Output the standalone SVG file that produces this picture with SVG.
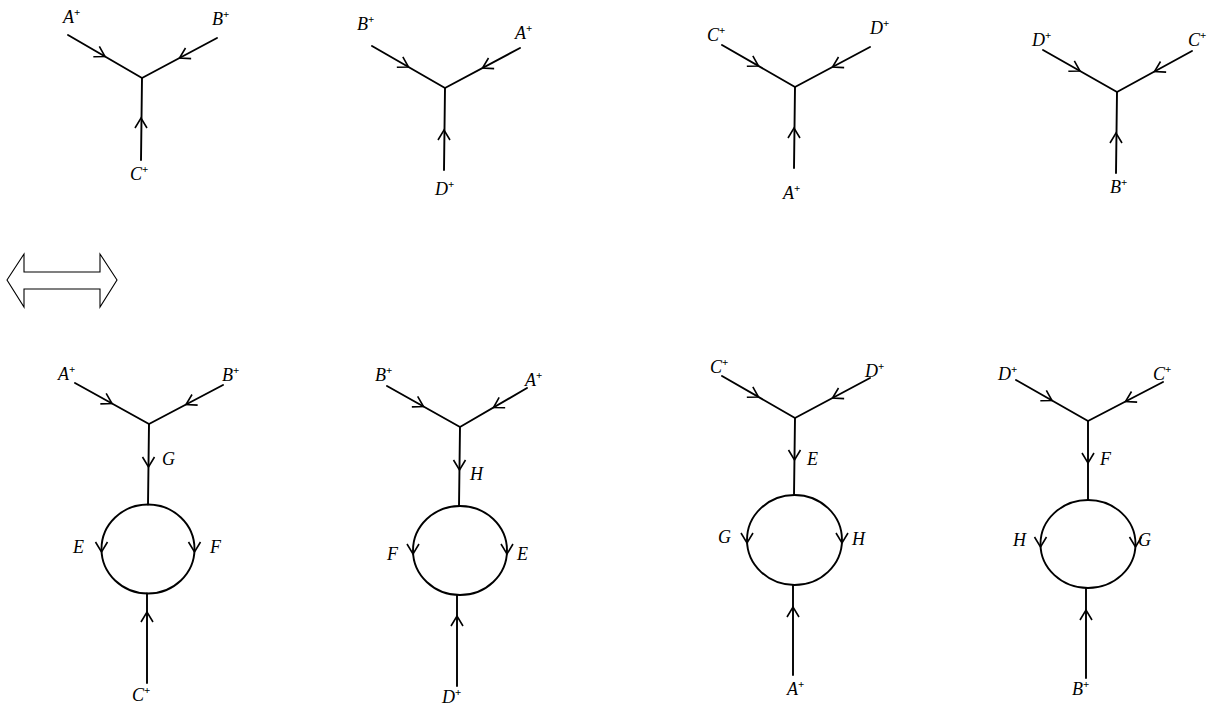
<svg xmlns="http://www.w3.org/2000/svg" xmlns:xlink="http://www.w3.org/1999/xlink" width="1215" height="707" viewBox="0 0 1215 707">
<style>
.ln{stroke:#000;stroke-width:1.9;fill:none;stroke-linecap:round}
.ch{stroke:#000;stroke-width:1.6;fill:none;stroke-linejoin:miter}
.lb{font-family:"Liberation Serif","Times New Roman",serif;font-style:italic;font-size:18px;fill:#000}
.sp{font-size:11px;font-style:normal;font-weight:bold}
.dbl{stroke:#000;stroke-width:1.1;fill:none}
</style>
<defs>
<path id="chev" d="M-10,-6 L0,0 L-10,6"/>
</defs>
<rect width="1215" height="707" fill="#fff"/>

<g id="double-arrow">
<path class="dbl" d="M7,280 L24,254 L24,272 L100,272 L100,254 L117,280 L100,307 L100,289 L24,289 L24,307 Z"/>
</g>

<g id="top-1">
<g class="ln"><path d="M68,35 L142,78 L217,38 M142,78 L141,160"/></g>
<g class="ch"><use xlink:href="#chev" transform="translate(105,56.5) rotate(30)"/><use xlink:href="#chev" transform="translate(179.5,58) rotate(152)"/><use xlink:href="#chev" transform="translate(141,118) rotate(-90)"/></g>
<text class="lb" x="63" y="23">A<tspan class="sp" dy="-7">+</tspan></text>
<text class="lb" x="212" y="25">B<tspan class="sp" dy="-7">+</tspan></text>
<text class="lb" x="130" y="180">C<tspan class="sp" dy="-7">+</tspan></text>
</g>

<g id="top-2">
<g class="ln"><path d="M372,46 L445,88 L520,48 M445,88 L444,170"/></g>
<g class="ch"><use xlink:href="#chev" transform="translate(408.5,67) rotate(30)"/><use xlink:href="#chev" transform="translate(482.5,68) rotate(152)"/><use xlink:href="#chev" transform="translate(444,130) rotate(-90)"/></g>
<text class="lb" x="357" y="30">B<tspan class="sp" dy="-7">+</tspan></text>
<text class="lb" x="515" y="39">A<tspan class="sp" dy="-7">+</tspan></text>
<text class="lb" x="435" y="195">D<tspan class="sp" dy="-7">+</tspan></text>
</g>

<g id="top-3">
<g class="ln"><path d="M722,45 L795,87 L870,47 M795,87 L794,168"/></g>
<g class="ch"><use xlink:href="#chev" transform="translate(758.5,66) rotate(30)"/><use xlink:href="#chev" transform="translate(832.5,67) rotate(152)"/><use xlink:href="#chev" transform="translate(794,128) rotate(-90)"/></g>
<text class="lb" x="707" y="41">C<tspan class="sp" dy="-7">+</tspan></text>
<text class="lb" x="870" y="34">D<tspan class="sp" dy="-7">+</tspan></text>
<text class="lb" x="783" y="199">A<tspan class="sp" dy="-7">+</tspan></text>
</g>

<g id="top-4">
<g class="ln"><path d="M1043,50 L1117,92 L1192,51 M1117,92 L1116,173"/></g>
<g class="ch"><use xlink:href="#chev" transform="translate(1080,71) rotate(30)"/><use xlink:href="#chev" transform="translate(1154.5,71.5) rotate(152)"/><use xlink:href="#chev" transform="translate(1116,133) rotate(-90)"/></g>
<text class="lb" x="1032" y="46">D<tspan class="sp" dy="-7">+</tspan></text>
<text class="lb" x="1188" y="46">C<tspan class="sp" dy="-7">+</tspan></text>
<text class="lb" x="1110" y="193">B<tspan class="sp" dy="-7">+</tspan></text>
</g>

<g id="bottom-1">
<g class="ln"><path d="M75,383 L149,424 L223,385 M149,424 L148,504.5 M147,593.5 L147,683"/><ellipse cx="148" cy="549" rx="46.5" ry="44.5"/></g>
<g class="ch"><use xlink:href="#chev" transform="translate(112,403.5) rotate(29)"/><use xlink:href="#chev" transform="translate(186,404.5) rotate(152)"/><use xlink:href="#chev" transform="translate(148.5,467) rotate(90)"/><use xlink:href="#chev" transform="translate(101.5,552) rotate(90)"/><use xlink:href="#chev" transform="translate(194.5,552) rotate(90)"/><use xlink:href="#chev" transform="translate(147,612) rotate(-90)"/></g>
<text class="lb" x="58" y="380">A<tspan class="sp" dy="-7">+</tspan></text>
<text class="lb" x="222" y="381">B<tspan class="sp" dy="-7">+</tspan></text>
<text class="lb" x="162" y="465">G</text>
<text class="lb" x="73" y="553">E</text>
<text class="lb" x="210" y="553">F</text>
<text class="lb" x="132" y="701">C<tspan class="sp" dy="-7">+</tspan></text>
</g>

<g id="bottom-2">
<g class="ln"><path d="M387,386 L460,427 L527,388 M460,427 L459,506 M457,595 L457,686"/><ellipse cx="460" cy="550.5" rx="47" ry="44.5"/></g>
<g class="ch"><use xlink:href="#chev" transform="translate(423.5,406.5) rotate(29)"/><use xlink:href="#chev" transform="translate(493.5,407.5) rotate(150)"/><use xlink:href="#chev" transform="translate(459.5,470) rotate(90)"/><use xlink:href="#chev" transform="translate(413,554) rotate(90)"/><use xlink:href="#chev" transform="translate(507,554) rotate(90)"/><use xlink:href="#chev" transform="translate(457,616) rotate(-90)"/></g>
<text class="lb" x="375" y="381">B<tspan class="sp" dy="-7">+</tspan></text>
<text class="lb" x="525" y="386">A<tspan class="sp" dy="-7">+</tspan></text>
<text class="lb" x="470" y="480">H</text>
<text class="lb" x="387" y="560">F</text>
<text class="lb" x="517" y="560">E</text>
<text class="lb" x="442" y="703">D<tspan class="sp" dy="-7">+</tspan></text>
</g>

<g id="bottom-3">
<g class="ln"><path d="M722,376 L795,418 L870,378 M795,418 L794,495 M793,585 L793,675"/><ellipse cx="794.5" cy="540" rx="47.5" ry="45"/></g>
<g class="ch"><use xlink:href="#chev" transform="translate(758.5,397) rotate(30)"/><use xlink:href="#chev" transform="translate(832.5,398) rotate(152)"/><use xlink:href="#chev" transform="translate(794.5,460) rotate(90)"/><use xlink:href="#chev" transform="translate(747,543) rotate(90)"/><use xlink:href="#chev" transform="translate(842,543) rotate(90)"/><use xlink:href="#chev" transform="translate(793,607) rotate(-90)"/></g>
<text class="lb" x="710" y="373">C<tspan class="sp" dy="-7">+</tspan></text>
<text class="lb" x="865" y="377">D<tspan class="sp" dy="-7">+</tspan></text>
<text class="lb" x="807" y="465">E</text>
<text class="lb" x="718" y="543">G</text>
<text class="lb" x="852" y="545">H</text>
<text class="lb" x="787" y="695">A<tspan class="sp" dy="-7">+</tspan></text>
</g>

<g id="bottom-4">
<g class="ln"><path d="M1016,380 L1088,421 L1163,382 M1088,421 L1088,500 M1086,588 L1086,678"/><ellipse cx="1088" cy="544" rx="47.5" ry="44"/></g>
<g class="ch"><use xlink:href="#chev" transform="translate(1052,400.5) rotate(30)"/><use xlink:href="#chev" transform="translate(1125.5,401.5) rotate(152)"/><use xlink:href="#chev" transform="translate(1088,463) rotate(90)"/><use xlink:href="#chev" transform="translate(1040.5,547) rotate(90)"/><use xlink:href="#chev" transform="translate(1135.5,547) rotate(90)"/><use xlink:href="#chev" transform="translate(1086,610) rotate(-90)"/></g>
<text class="lb" x="998" y="380">D<tspan class="sp" dy="-7">+</tspan></text>
<text class="lb" x="1153" y="380">C<tspan class="sp" dy="-7">+</tspan></text>
<text class="lb" x="1100" y="465">F</text>
<text class="lb" x="1013" y="546">H</text>
<text class="lb" x="1138" y="546">G</text>
<text class="lb" x="1072" y="695">B<tspan class="sp" dy="-7">+</tspan></text>
</g>
</svg>
